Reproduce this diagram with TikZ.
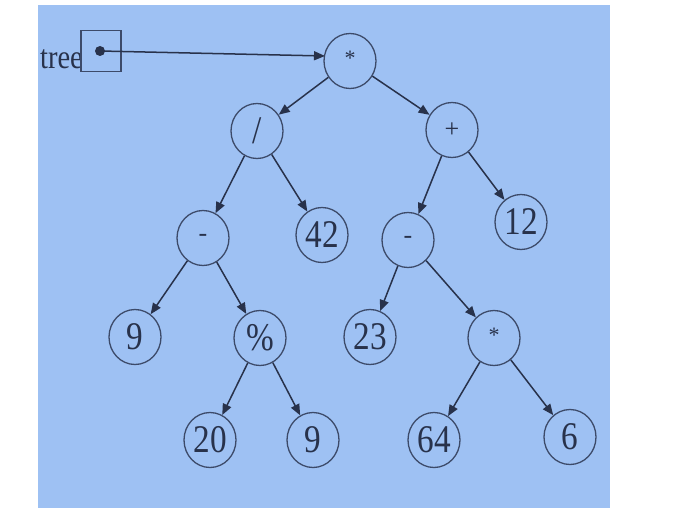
\documentclass[tikz,border=0pt]{standalone}
\usepackage{fontspec}
\setmainfont{Liberation Serif}
\usetikzlibrary{arrows.meta,shapes.geometric}
\definecolor{bg}{RGB}{158,193,243}
\definecolor{ink}{RGB}{40,50,75}
\definecolor{ring}{RGB}{60,74,105}
\newcommand{\tx}[1]{\scalebox{0.95}[1.12]{#1}}
\begin{document}
\begin{tikzpicture}[x=1pt,y=-1pt,
  tn/.style={ellipse,draw=ring,line width=1.3pt,minimum width=52pt,minimum height=55pt,inner sep=0pt,
    text=ink,font=\fontsize{35}{35}\selectfont},
  edge/.style={draw=ink,line width=1.5pt,-{Triangle[length=11pt,width=9pt]}}]
\useasboundingbox (0,0) rectangle (682,511);
\fill[white] (0,0) rectangle (682,511);
\fill[bg] (38,5) rectangle (610,508);
\begin{scope}
\clip (38,5) rectangle (610,508);
\node[anchor=base east,inner sep=0pt,text=ink,font=\fontsize{30}{30}\selectfont] (lab) at (83,68) {\tx{tree}};
\end{scope}
\node[draw=ring,line width=1.3pt,minimum width=40pt,minimum height=41pt,inner sep=0pt] (box) at (101,51) {};
\fill[ink] (100,51) circle (5pt);
\coordinate (dot) at (100,51);
\coordinate (rin) at (325,56);
% nodes
\node[tn] (r) at (350,61) {\raisebox{5pt}{\fontsize{22}{22}\selectfont *}};
\node[tn] (div) at (257,131) {\tx{/}};
\node[tn] (plus) at (452,130) {\fontsize{26}{26}\selectfont +};
\node[tn] (m1) at (203,238) {\fontsize{26}{26}\selectfont -};
\node[tn] (n42) at (322,235) {\tx{42}};
\node[tn] (m2) at (408,240) {\fontsize{26}{26}\selectfont -};
\node[tn] (n12) at (521,222) {\tx{12}};
\node[tn] (n9a) at (135,337) {\tx{9}};
\node[tn] (mod) at (260,338) {\tx{\%}};
\node[tn] (n23) at (370,337) {\tx{23}};
\node[tn] (mul) at (494,338) {\raisebox{5pt}{\fontsize{22}{22}\selectfont *}};
\node[tn] (n20) at (210,440) {\tx{20}};
\node[tn] (n9b) at (313,440) {\tx{9}};
\node[tn] (n64) at (434,440) {\tx{64}};
\node[tn] (n6) at (570,437) {\tx{6}};
% edges
\draw[edge] (dot) -- (rin);
\draw[edge] (r) -- (div);
\draw[edge] (r) -- (plus);
\draw[edge] (div) -- (m1);
\draw[edge] (div) -- (n42);
\draw[edge] (plus) -- (m2);
\draw[edge] (plus) -- (n12);
\draw[edge] (m1) -- (n9a);
\draw[edge] (m1) -- (mod);
\draw[edge] (m2) -- (n23);
\draw[edge] (m2) -- (mul);
\draw[edge] (mod) -- (n20);
\draw[edge] (mod) -- (n9b);
\draw[edge] (mul) -- (n64);
\draw[edge] (mul) -- (n6);
\end{tikzpicture}
\end{document}
